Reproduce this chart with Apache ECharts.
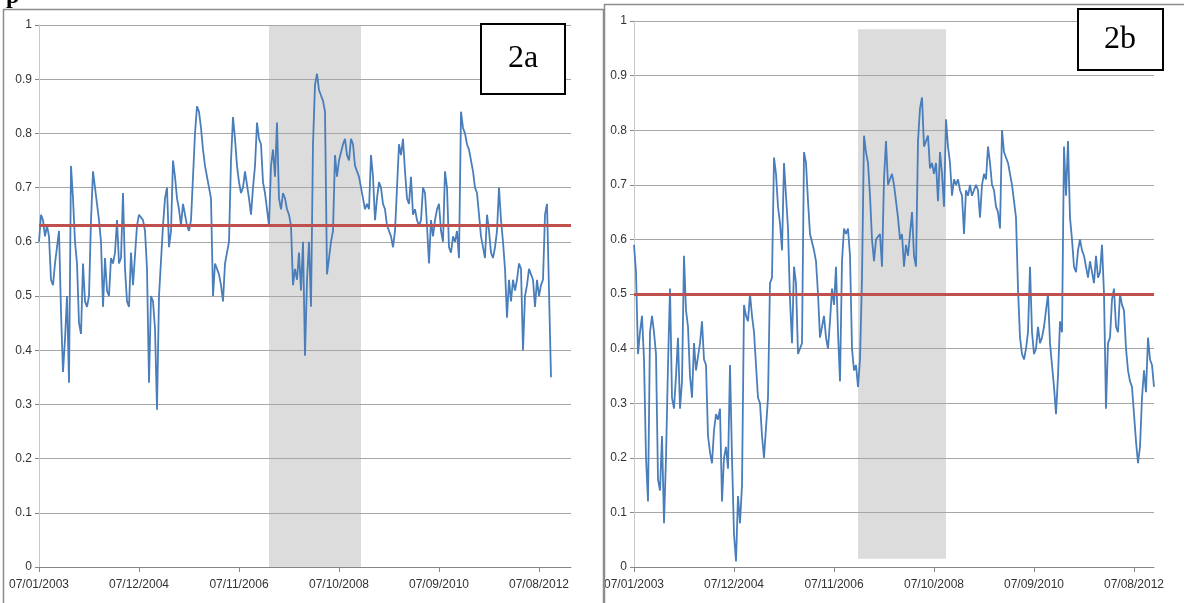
<!DOCTYPE html>
<html><head><meta charset="utf-8">
<script src="https://cdn.jsdelivr.net/npm/echarts@6/dist/echarts.min.js"></script>
<style>html,body{margin:0;padding:0;background:#fff}#c{width:1184px;height:603px}</style>
</head><body><div id="c"></div>
<script>
// ---- data ----
const startDate = [2003, 0, 7];   // 07/01/2003
const stepDays = 14;              // one sample every 10 trading days
const nCatA = 267;
const nCatB = 261;
const tickLabels = ['07/01/2003','07/12/2004','07/11/2006','07/10/2008','07/09/2010','07/08/2012'];
const valuesA = [
0.6,0.65,0.64,0.61,0.63,0.61,0.53,0.52,0.56,0.56,
0.62,0.47,0.36,0.42,0.5,0.34,0.74,0.68,0.6,0.56,
0.45,0.43,0.56,0.49,0.48,0.5,0.64,0.73,0.7,0.67,
0.64,0.6,0.48,0.57,0.51,0.5,0.57,0.56,0.58,0.64,
0.56,0.57,0.69,0.55,0.49,0.48,0.58,0.52,0.52,0.63,
0.65,0.65,0.64,0.62,0.55,0.34,0.5,0.49,0.44,0.29,
0.5,0.5,0.63,0.68,0.7,0.59,0.62,0.75,0.72,0.68,
0.66,0.63,0.67,0.65,0.63,0.62,0.64,0.64,0.8,0.85,
0.84,0.81,0.77,0.74,0.72,0.7,0.68,0.5,0.56,0.55,
0.54,0.52,0.49,0.56,0.58,0.6,0.75,0.83,0.79,0.74,
0.71,0.69,0.7,0.73,0.73,0.68,0.65,0.7,0.74,0.82,
0.79,0.78,0.71,0.69,0.66,0.63,0.74,0.77,0.72,0.82,
0.68,0.66,0.69,0.68,0.66,0.65,0.63,0.52,0.55,0.53,
0.58,0.51,0.6,0.39,0.53,0.6,0.48,0.78,0.89,0.91,
0.88,0.87,0.86,0.84,0.54,0.57,0.6,0.62,0.76,0.72,
0.75,0.75,0.78,0.79,0.76,0.75,0.79,0.78,0.74,0.74,
0.72,0.72,0.68,0.66,0.67,0.66,0.76,0.72,0.64,0.68,
0.71,0.7,0.67,0.66,0.63,0.63,0.61,0.59,0.62,0.7,
0.78,0.76,0.79,0.73,0.68,0.67,0.72,0.65,0.66,0.64,
0.63,0.64,0.7,0.69,0.63,0.56,0.64,0.61,0.64,0.66,
0.67,0.62,0.6,0.73,0.7,0.59,0.58,0.61,0.6,0.62,
0.57,0.84,0.81,0.8,0.78,0.77,0.75,0.73,0.7,0.69,
0.65,0.61,0.61,0.57,0.65,0.62,0.58,0.57,0.59,0.62,
0.7,0.64,0.6,0.55,0.46,0.53,0.49,0.53,0.51,0.53,
0.56,0.55,0.4,0.5,0.52,0.55,0.55,0.53,0.48,0.53,
0.5,0.52,0.53,0.65,0.67,0.67,0.35
];
const valuesB = [
0.59,0.54,0.39,0.43,0.46,0.38,0.2,0.12,0.43,0.46,
0.43,0.39,0.16,0.14,0.24,0.08,0.2,0.37,0.51,0.31,
0.29,0.35,0.42,0.29,0.34,0.57,0.47,0.44,0.35,0.31,
0.41,0.36,0.36,0.41,0.45,0.38,0.37,0.24,0.21,0.19,
0.25,0.28,0.27,0.29,0.12,0.2,0.22,0.18,0.37,0.2,
0.06,0.01,0.13,0.08,0.15,0.48,0.46,0.45,0.5,0.46,
0.43,0.37,0.31,0.3,0.24,0.2,0.2,0.31,0.52,0.53,
0.75,0.72,0.66,0.63,0.58,0.74,0.68,0.62,0.49,0.41,
0.55,0.52,0.39,0.39,0.41,0.76,0.74,0.67,0.61,0.61,
0.58,0.56,0.5,0.42,0.44,0.46,0.42,0.4,0.45,0.51,
0.48,0.55,0.43,0.34,0.56,0.62,0.61,0.62,0.57,0.4,
0.36,0.37,0.33,0.38,0.53,0.79,0.76,0.74,0.68,0.6,
0.56,0.6,0.6,0.61,0.55,0.71,0.78,0.7,0.7,0.72,
0.7,0.67,0.64,0.6,0.61,0.55,0.59,0.57,0.57,0.65,
0.57,0.55,0.78,0.84,0.86,0.77,0.78,0.79,0.73,0.74,
0.72,0.74,0.67,0.76,0.72,0.66,0.82,0.77,0.74,0.68,
0.71,0.7,0.71,0.69,0.68,0.61,0.69,0.68,0.7,0.68,
0.69,0.7,0.69,0.64,0.7,0.72,0.71,0.77,0.74,0.7,
0.69,0.66,0.65,0.62,0.8,0.76,0.75,0.74,0.72,0.7,
0.67,0.64,0.51,0.42,0.39,0.38,0.4,0.43,0.55,0.43,
0.39,0.4,0.44,0.41,0.42,0.44,0.47,0.5,0.41,0.37,
0.33,0.28,0.35,0.45,0.43,0.77,0.68,0.78,0.64,0.6,
0.55,0.54,0.58,0.6,0.58,0.57,0.55,0.53,0.56,0.54,
0.52,0.57,0.53,0.54,0.59,0.5,0.29,0.41,0.42,0.49,
0.51,0.44,0.43,0.5,0.48,0.47,0.4,0.36,0.34,0.33,
0.28,0.23,0.19,0.22,0.31,0.36,0.32,0.42,0.38,0.37,
0.33
];
const meanA = 0.63;
const meanB = 0.5;
const shadeA = ['05/06/2007', '10/03/2009'];
const shadeB = ['24/04/2007', '30/12/2008'];
const shadeBRange = [0.015, 0.985];
const panelTitles = ['2a', '2b'];

// ---- helpers ----
function pad(n){ return (n < 10 ? '0' : '') + n; }
function makeCats(n){
  const out = [];
  const t0 = Date.UTC(startDate[0], startDate[1], startDate[2]);
  for (let i = 0; i < n; i++) {
    const d = new Date(t0 + i * stepDays * 86400000);
    out.push(pad(d.getUTCDate()) + '/' + pad(d.getUTCMonth() + 1) + '/' + d.getUTCFullYear());
  }
  return out;
}
const catsA = makeCats(nCatA);
const catsB = makeCats(nCatB);
const isTick = (idx, v) => tickLabels.indexOf(v) >= 0;

const FONT = "'Liberation Sans Narrow','Arial Narrow','Liberation Sans',sans-serif";
function xAxisOf(gi, cats){
  return {
    type: 'category', gridIndex: gi, data: cats, boundaryGap: false,
    axisLine: { lineStyle: { color: '#868686', width: 1 } },
    axisTick: { interval: isTick, length: 5, lineStyle: { color: '#868686' } },
    axisLabel: { interval: isTick, color: '#333', fontFamily: FONT, fontSize: 12, margin: 12 },
    splitLine: { show: false }, z: 4
  };
}
function yAxisOf(gi){
  return {
    type: 'value', gridIndex: gi, min: 0, max: 1, interval: 0.1,
    axisLine: { show: true, lineStyle: { color: '#c8c8c8', width: 1 } },
    axisTick: { show: true, length: 4, lineStyle: { color: '#868686' } },
    axisLabel: { color: '#333', fontFamily: FONT, fontSize: 12, margin: 7,
      formatter: v => String(Math.round(v * 10) / 10) },
    splitLine: { lineStyle: { color: '#a6a6a6', width: 1 } },
    z: 4
  };
}
function lineSeries(xi, data, mean, shade){
  return {
    type: 'line', xAxisIndex: xi, yAxisIndex: xi, data: data,
    showSymbol: false, symbol: 'none', animation: false, z: 5,
    lineStyle: { color: '#4a7ebb', width: 1.8 },
    markLine: {
      silent: true, symbol: 'none', animation: false, z: 6,
      label: { show: false },
      lineStyle: { color: '#c0504d', width: 3, type: 'solid' },
      data: [{ yAxis: mean }]
    },
    markArea: {
      silent: true, z: 1, animation: false,
      itemStyle: { color: '#dcdcdc' },
      data: [[{ xAxis: shade[0], yAxis: shade[2] }, { xAxis: shade[1], yAxis: shade[3] }]]
    }
  };
}

const chart = echarts.init(document.getElementById('c'));
chart.setOption({
  animation: false,
  backgroundColor: '#fff',
  grid: [
    { left: 39, top: 25, width: 532, height: 542 },
    { left: 634, top: 21, width: 520, height: 546 }
  ],
  xAxis: [xAxisOf(0, catsA), xAxisOf(1, catsB)],
  yAxis: [yAxisOf(0), yAxisOf(1)],
  series: [
    lineSeries(0, valuesA, meanA, [shadeA[0], shadeA[1], 0, 1]),
    lineSeries(1, valuesB, meanB, [shadeB[0], shadeB[1], shadeBRange[0], shadeBRange[1]])
  ],
  graphic: [
    { type: 'rect', z: 100, shape: { x: 3.5, y: 9.5, width: 600, height: 610 },
      style: { fill: null, stroke: '#8c8c8c', lineWidth: 1.5 } },
    { type: 'rect', z: 101, shape: { x: 604.5, y: 4.5, width: 600, height: 620 },
      style: { fill: null, stroke: '#8c8c8c', lineWidth: 1.5 } },
    { type: 'text', z: 102, left: 6, top: -15,
      style: { text: 'p', font: "bold 24px 'Liberation Serif', serif", fill: '#000' } },
    { type: 'rect', z: 102, shape: { x: 481, y: 24, width: 84, height: 70 },
      style: { fill: '#fff', stroke: '#000', lineWidth: 2 } },
    { type: 'text', z: 103, x: 523, y: 59,
      style: { text: panelTitles[0], font: "32px 'Liberation Serif', serif", fill: '#000', align: 'center', verticalAlign: 'middle' } },
    { type: 'rect', z: 102, shape: { x: 1078, y: 9, width: 85, height: 61 },
      style: { fill: '#fff', stroke: '#000', lineWidth: 2 } },
    { type: 'text', z: 103, x: 1120, y: 40,
      style: { text: panelTitles[1], font: "32px 'Liberation Serif', serif", fill: '#000', align: 'center', verticalAlign: 'middle' } }
  ]
});
</script></body></html>
